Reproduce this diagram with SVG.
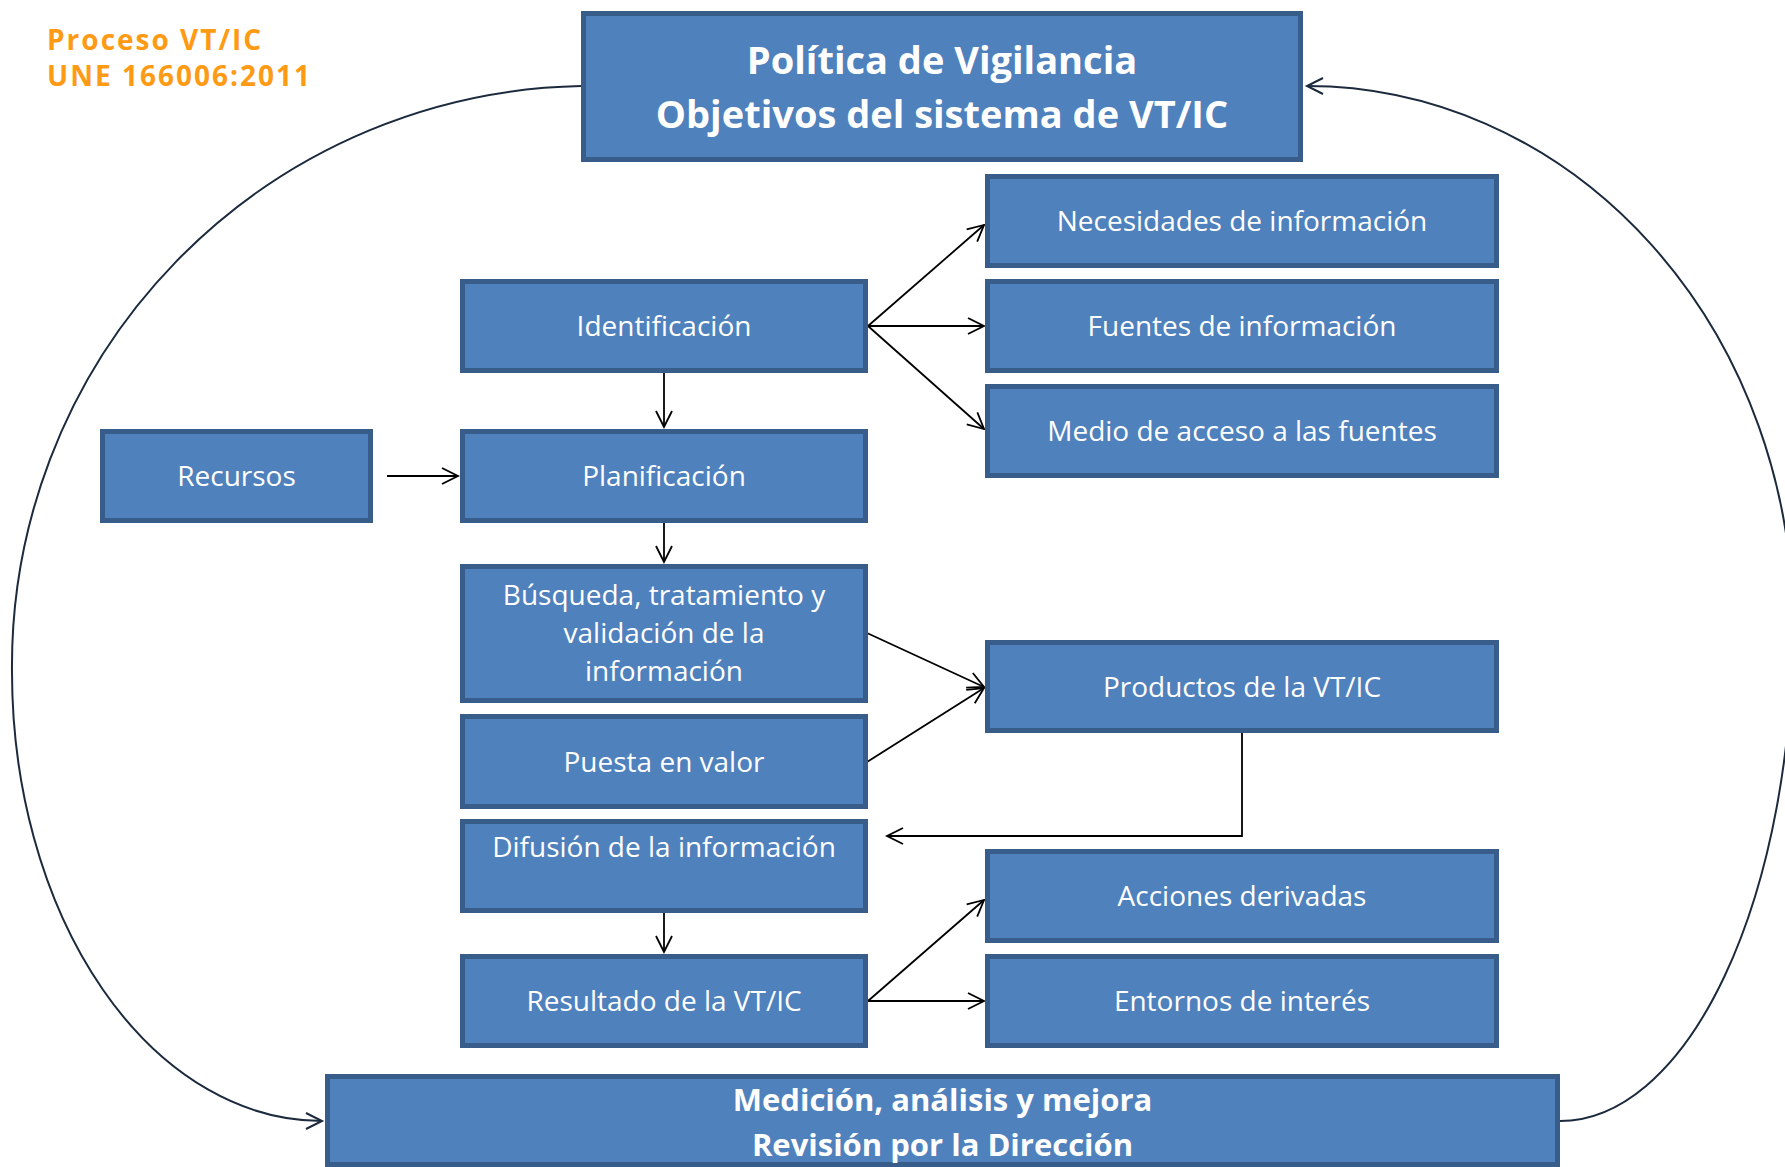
<svg xmlns="http://www.w3.org/2000/svg" width="1785" height="1167" viewBox="0 0 1785 1167">
<style>
.box{fill:#4F81BD;stroke:#385D8A;stroke-width:5}
.t{font-family:"Open Sans","Noto Sans","DejaVu Sans",sans-serif;font-size:28px;fill:#FFFFFF;text-anchor:middle}
.b{font-weight:bold}
.ln{fill:none;stroke:#000000;stroke-width:1.8}
.cv{fill:none;stroke:#1C2A3E;stroke-width:2}
.lbl{font-family:"Open Sans","Noto Sans","DejaVu Sans",sans-serif;font-size:28px;font-weight:bold;fill:#FF9A14;letter-spacing:2px}
</style>
<defs>
<marker id="arr" markerUnits="userSpaceOnUse" markerWidth="40" markerHeight="40" viewBox="-20 -20 40 40" refX="0" refY="0" orient="auto">
<path d="M-16,-8 L0,0 L-16,8" fill="none" stroke="#000000" stroke-width="1.8"/>
</marker>
<marker id="arrc" markerUnits="userSpaceOnUse" markerWidth="40" markerHeight="40" viewBox="-20 -20 40 40" refX="0" refY="0" orient="auto">
<path d="M-16,-8 L0,0 L-16,8" fill="none" stroke="#1C2A3E" stroke-width="2"/>
</marker>
</defs>
<rect width="1785" height="1167" fill="#FFFFFF"/>

<g id="label">
<text class="lbl" x="47" y="50">Proceso VT/IC</text>
<text class="lbl" x="47" y="86">UNE 166006:2011</text>
</g>

<g id="connectors">
<path class="cv" marker-end="url(#arrc)" d="M581,86 A580 580 0 0 0 12,672 A310 449 0 0 0 322,1121"/>
<path class="cv" marker-end="url(#arrc)" d="M1560,1121 A233 496 0 0 0 1793,625 A486 539 0 0 0 1307,86"/>
<line class="ln" marker-end="url(#arr)" x1="868" y1="326" x2="984" y2="225"/>
<line class="ln" marker-end="url(#arr)" x1="868" y1="326" x2="984" y2="326"/>
<line class="ln" marker-end="url(#arr)" x1="868" y1="326" x2="984" y2="429"/>
<line class="ln" marker-end="url(#arr)" x1="664" y1="373" x2="664" y2="427"/>
<line class="ln" marker-end="url(#arr)" x1="387" y1="476" x2="458" y2="476"/>
<line class="ln" marker-end="url(#arr)" x1="664" y1="523" x2="664" y2="562"/>
<line class="ln" marker-end="url(#arr)" x1="867" y1="633" x2="984" y2="687"/>
<line class="ln" marker-end="url(#arr)" x1="867" y1="762" x2="984" y2="688"/>
<polyline class="ln" marker-end="url(#arr)" points="1242,733 1242,836 887,836"/>
<line class="ln" marker-end="url(#arr)" x1="664" y1="913" x2="664" y2="952"/>
<line class="ln" marker-end="url(#arr)" x1="868" y1="1001" x2="984" y2="900"/>
<line class="ln" marker-end="url(#arr)" x1="868" y1="1001" x2="984" y2="1001"/>
</g>

<g id="politica">
<rect class="box" x="583.5" y="13.5" width="717" height="146"/>
<text class="t b" x="942" y="74" style="font-size:38px">Política de Vigilancia</text>
<text class="t b" x="942" y="128" style="font-size:38px">Objetivos del sistema de VT/IC</text>
</g>
<g id="necesidades">
<rect class="box" x="987.5" y="176.5" width="509" height="89"/>
<text class="t" x="1242" y="231">Necesidades de información</text>
</g>
<g id="identificacion">
<rect class="box" x="462.5" y="281.5" width="403" height="89"/>
<text class="t" x="664" y="336">Identificación</text>
</g>
<g id="fuentes">
<rect class="box" x="987.5" y="281.5" width="509" height="89"/>
<text class="t" x="1242" y="336">Fuentes de información</text>
</g>
<g id="medio">
<rect class="box" x="987.5" y="386.5" width="509" height="89"/>
<text class="t" x="1242" y="441">Medio de acceso a las fuentes</text>
</g>
<g id="recursos">
<rect class="box" x="102.5" y="431.5" width="268" height="89"/>
<text class="t" x="236.5" y="486">Recursos</text>
</g>
<g id="planificacion">
<rect class="box" x="462.5" y="431.5" width="403" height="89"/>
<text class="t" x="664" y="486">Planificación</text>
</g>
<g id="busqueda">
<rect class="box" x="462.5" y="566.5" width="403" height="134"/>
<text class="t" x="664" y="605">Búsqueda, tratamiento y</text>
<text class="t" x="664" y="643">validación de la</text>
<text class="t" x="664" y="681">información</text>
</g>
<g id="productos">
<rect class="box" x="987.5" y="642.5" width="509" height="88"/>
<text class="t" x="1242" y="696.5">Productos de la VT/IC</text>
</g>
<g id="puesta">
<rect class="box" x="462.5" y="716.5" width="403" height="90"/>
<text class="t" x="664" y="771.5">Puesta en valor</text>
</g>
<g id="difusion">
<rect class="box" x="462.5" y="821.5" width="403" height="89"/>
<text class="t" x="664" y="857">Difusión de la información</text>
</g>
<g id="acciones">
<rect class="box" x="987.5" y="851.5" width="509" height="89"/>
<text class="t" x="1242" y="906">Acciones derivadas</text>
</g>
<g id="resultado">
<rect class="box" x="462.5" y="956.5" width="403" height="89"/>
<text class="t" x="664" y="1011">Resultado de la VT/IC</text>
</g>
<g id="entornos">
<rect class="box" x="987.5" y="956.5" width="509" height="89"/>
<text class="t" x="1242" y="1011">Entornos de interés</text>
</g>
<g id="medicion">
<rect class="box" x="327.5" y="1076.5" width="1230" height="88"/>
<text class="t b" x="942.5" y="1111" style="font-size:31px">Medición, análisis y mejora</text>
<text class="t b" x="942.5" y="1156" style="font-size:31px">Revisión por la Dirección</text>
</g>
</svg>
